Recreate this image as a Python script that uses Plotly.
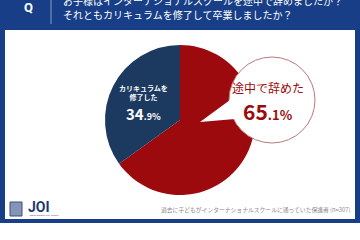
import plotly.graph_objects as go

W, H = 360, 240
labels = ["途中で辞めた", "カリキュラムを修了した"]
values = [65.1, 34.9]
colors = ["#9c0a0d", "#1c3a60"]
question_lines = ["お子様はインターナショナルスクールを途中で辞めましたか？",
                  "それともカリキュラムを修了して卒業しましたか？"]
footnote = "過去に子どもがインターナショナルスクールに通っていた保護者 (n=307)"

NAVY = "#173e86"
JP = "Noto Sans CJK JP"

def px(x):
    return x / W

def py(y):
    return 1 - y / H

fig = go.Figure()
fig.add_trace(go.Pie(
    labels=labels, values=values, sort=False, direction="clockwise", rotation=0,
    marker=dict(colors=colors, line=dict(width=0)), textinfo="none", hoverinfo="label+percent",
    domain=dict(x=[px(105), px(255)], y=[py(195), py(45)]), showlegend=False,
))

shapes = [
    dict(type="rect", xref="paper", yref="paper", x0=0, x1=1, y0=py(223), y1=1,
         fillcolor=NAVY, line=dict(width=0), layer="below"),
    dict(type="rect", xref="paper", yref="paper", x0=px(5), x1=px(355), y0=py(219), y1=py(30),
         fillcolor="white", line=dict(width=0), layer="below"),
    dict(type="line", xref="paper", yref="paper", x0=px(51), x1=px(51), y0=py(24), y1=1,
         line=dict(color="#8a9cc4", width=1)),
    # speech bubble
    dict(type="circle", xref="paper", yref="paper", x0=px(229), x1=px(315), y0=py(143), y1=py(57),
         fillcolor="white", line=dict(color="#b87a7a", width=1), layer="above"),
    dict(type="path", xref="paper", yref="paper",
         path=f"M {px(230)} {py(100)} L {px(200)} {py(122)} L {px(235)} {py(119)} Z",
         fillcolor="white", line=dict(width=0), layer="above"),
    # logo icon
    dict(type="rect", xref="paper", yref="paper", x0=px(10), x1=px(22), y0=py(216), y1=py(202),
         fillcolor="#8595b8", line=dict(color="#3a4f80", width=1), layer="above"),
]

ann = []
ann.append(dict(text="<b>Q</b>", x=px(28), y=py(8),
                font=dict(family="Roboto", size=13, color="white")))
for i, t in enumerate(question_lines):
    ann.append(dict(text=t, x=px(61), y=py(0 + 14.5 * i), xanchor="left",
                    font=dict(family=JP, size=10, color="white")))
ann += [
    dict(text=labels[0], x=px(268), y=py(87), font=dict(family=JP, size=12, color="#9c0a0d")),
    dict(text=f"<b>{str(values[0]).split('.')[0]}</b><b><span style='font-size:13px'>.{str(values[0]).split('.')[1]}%</span></b>",
         x=px(268), y=py(111), font=dict(family=JP, size=21, color="#9c0a0d")),
    dict(text="<b>カリキュラムを<br>修了した</b>", x=px(143), y=py(93),
         font=dict(family=JP, size=7, color="white")),
    dict(text=f"<b>{str(values[1]).split('.')[0]}</b><b><span style='font-size:9px'>.{str(values[1]).split('.')[1]}%</span></b>",
         x=px(143), y=py(113), font=dict(family=JP, size=15, color="white")),
    dict(text="<b>JOI</b>", x=px(26), y=py(207), xanchor="left",
         font=dict(family="Roboto", size=14, color="#1c3a70")),
    dict(text="Japan Outdoor Intl. School", x=px(27), y=py(215.5), xanchor="left",
         font=dict(family="Roboto", size=2.5, color="#556")),
    dict(text=footnote, x=px(352), y=py(209), xanchor="right",
         font=dict(family=JP, size=5.8, color="#8a8a8a")),
]
for a in ann:
    a.setdefault("xref", "paper")
    a.setdefault("yref", "paper")
    a.setdefault("xanchor", "center")
    a.setdefault("yanchor", "middle")
    a.setdefault("showarrow", False)

fig.update_layout(width=W, height=H, margin=dict(l=0, r=0, t=0, b=0),
                  paper_bgcolor="white", plot_bgcolor="white",
                  shapes=shapes, annotations=ann)
fig.write_html("out.html")
